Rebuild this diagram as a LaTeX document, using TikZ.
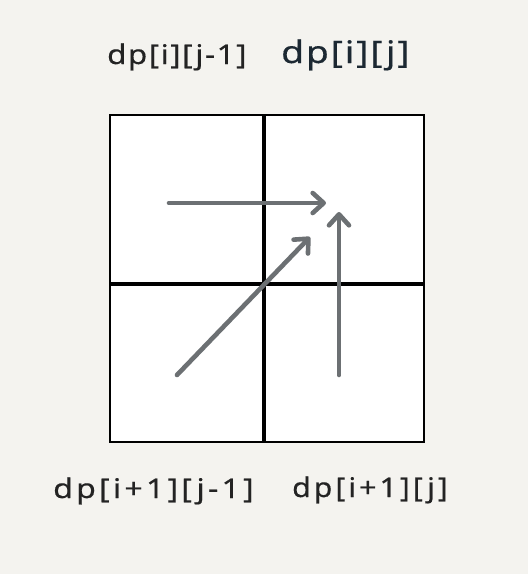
\documentclass[tikz,border=0pt]{standalone}
\usepackage{fontspec}
\setmainfont{Noto Sans}
\newfontfamily\lblA[LetterSpace=5,FakeBold=0.4]{Noto Sans}
\newfontfamily\lblC[LetterSpace=10,FakeBold=0.4]{Noto Sans}
\usetikzlibrary{arrows.meta}
\definecolor{paper}{RGB}{244,243,239}
\definecolor{arrowgray}{RGB}{108,112,115}
\definecolor{txt}{RGB}{35,35,35}
\definecolor{txtb}{RGB}{28,40,50}
\begin{document}
\begin{tikzpicture}[x=1pt,y=-1pt,
  gridline/.style={line width=2.6pt,black},
  midline/.style={line width=3.6pt,black},
  flow/.style={line width=4.6pt,arrowgray,line cap=round,
    -{Straight Barb[length=11pt,width=20pt,line width=4.6pt,round]}},
  lbl/.style={inner sep=0pt,anchor=base west,text=txt}]
\fill[paper] (0,0) rectangle (528,574);
\useasboundingbox (0,0) rectangle (528,574);
\fill[white] (110,115) rectangle (424,442);
\draw[midline] (264,115) -- (264,442);
\draw[midline] (110,284) -- (424,284);
\draw[gridline] (110,115) rectangle (424,442);
% arrow end points
\coordinate (hs) at (169,203);
\coordinate (he) at (326,203);
\coordinate (vs) at (339,375);
\coordinate (ve) at (339,212);
\coordinate (ds) at (177,375);
\coordinate (de) at (310,237);
\draw[flow] (hs) -- (he);
\draw[flow] (vs) -- (ve);
\draw[flow] (ds) -- (de);
% labels
\node[lbl,font=\lblA\fontsize{27}{27}\selectfont] (l1) at (107,64) {\scalebox{1.16}[1]{dp[i][j-1]}};
\node[lbl,text=txtb,font=\lblA\fontsize{31}{31}\selectfont] (l2) at (281,63) {\scalebox{1.2}[1]{dp[i][j]}};
\node[lbl,font=\lblC\fontsize{27}{27}\selectfont] (l3) at (53,498) {\scalebox{1.19}[1]{dp[i+1][j-1]}};
\node[lbl,font=\lblC\fontsize{27}{27}\selectfont] (l4) at (292,497) {\scalebox{1.12}[1]{dp[i+1][j]}};
\end{tikzpicture}
\end{document}
